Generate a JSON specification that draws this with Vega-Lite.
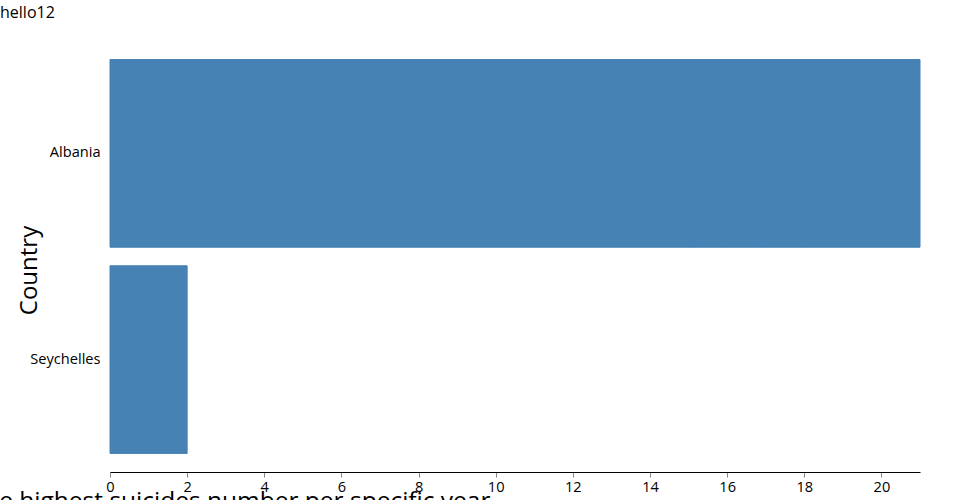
{
  "$schema": "https://vega.github.io/schema/vega-lite/v6.json",
  "width": 810,
  "height": 431,
  "autosize": "none",
  "padding": {"left": 110, "top": 41, "right": 30, "bottom": 28},
  "background": "white",
  "config": {
    "font": "Open Sans",
    "view": {"stroke": null},
    "axis": {"labelColor": "#000", "titleColor": "#000", "labelFont": "Open Sans", "titleFont": "Open Sans"}
  },
  "title": {
    "text": "hello12",
    "anchor": "start",
    "frame": "group",
    "dx": -110,
    "fontSize": 16,
    "fontWeight": "normal",
    "font": "Open Sans",
    "color": "#000",
    "offset": 20
  },
  "data": {
    "values": [
      {"Country": "Albania", "suicides": 15},
      {"Country": "Albania", "suicides": 1},
      {"Country": "Albania", "suicides": 1},
      {"Country": "Albania", "suicides": 1},
      {"Country": "Albania", "suicides": 3},
      {"Country": "Seychelles", "suicides": 1},
      {"Country": "Seychelles", "suicides": 1}
    ]
  },
  "mark": {"type": "bar", "color": "#4682b4", "stroke": "#4682b4", "strokeWidth": 1},
  "encoding": {
    "y": {
      "field": "Country",
      "type": "nominal",
      "scale": {"paddingInner": 0.09, "paddingOuter": 0.09},
      "axis": {
        "domain": false,
        "ticks": false,
        "labelPadding": 10,
        "labelFontSize": 14.6,
        "title": "Country",
        "titleFontSize": 24,
        "titleFontWeight": "normal",
        "titleAngle": -90,
        "titleAlign": "center",
        "titleBaseline": "alphabetic",
        "titleX": -74,
        "titleY": 229
      }
    },
    "x": {
      "field": "suicides",
      "type": "quantitative",
      "stack": "zero",
      "scale": {"domain": [0, 21], "nice": false},
      "axis": {
        "grid": false,
        "domainColor": "#000",
        "tickColor": "#888",
        "tickSize": 5,
        "labelFlush": false,
        "labelFontSize": 14.6,
        "values": [0, 2, 4, 6, 8, 10, 12, 14, 16, 18, 20],
        "title": "The highest suicides number per specific year",
        "titleFontSize": 24.5,
        "titleFontWeight": "normal",
        "titleAlign": "right",
        "titleBaseline": "alphabetic",
        "titleX": 380,
        "titleY": 36
      }
    }
  }
}
